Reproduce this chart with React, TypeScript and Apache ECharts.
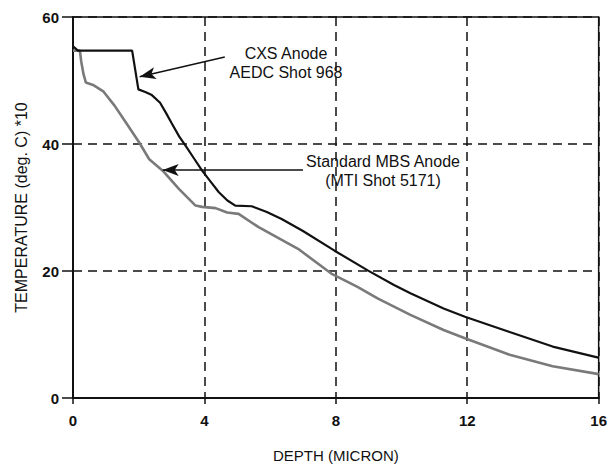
import React, { useEffect, useRef } from "react";
import * as echarts from "echarts";

const cxsDepth = [0, 0.15, 1.8, 1.99, 2.2, 2.4, 2.65, 2.83, 3.0, 3.23, 3.43, 3.7, 3.93, 4.2, 4.44, 4.7, 4.94, 5.44, 5.9, 6.35, 7.0, 7.96, 8.97, 9.77, 10.27, 11.28, 11.93, 13.29, 14.6, 15.96, 16];
const cxsTemp = [55.4, 54.7, 54.7, 48.6, 48.2, 47.7, 46.5, 44.9, 43.3, 41.2, 39.7, 37.6, 35.8, 34.0, 32.4, 31.1, 30.3, 30.2, 29.3, 28.2, 26.3, 23.2, 20.1, 17.8, 16.5, 14.1, 12.8, 10.4, 8.1, 6.4, 6.3];

const mbsDepth = [0, 0.21, 0.25, 0.32, 0.39, 0.61, 0.92, 1.27, 1.62, 2.02, 2.32, 2.73, 3.23, 3.73, 3.93, 4.34, 4.69, 5.04, 5.65, 6.85, 7.86, 8.66, 9.27, 10.27, 11.28, 11.93, 13.29, 14.6, 15.96, 16];
const mbsTemp = [54.7, 54.7, 53.0, 51.0, 49.7, 49.3, 48.3, 46.0, 43.3, 40.2, 37.6, 35.8, 32.9, 30.3, 30.1, 29.9, 29.2, 29.0, 26.9, 23.5, 19.6, 17.5, 15.7, 13.1, 10.7, 9.4, 6.8, 5.0, 3.8, 3.7];

const xTicks = [0, 4, 8, 12, 16];
const yTicks = [0, 20, 40, 60];

const cxsLabel = ["CXS Anode", "AEDC Shot 968"];
const mbsLabel = ["Standard MBS Anode", "(MTI Shot 5171)"];
const cxsArrow = [[4.62, 53.7], [2.03, 50.6]];
const mbsArrow = [[7.0, 35.9], [2.73, 35.9]];

const FONT = "Liberation Sans, Arial, Helvetica, sans-serif";

export default function App() {
  const ref = useRef<HTMLDivElement>(null);
  useEffect(() => {
    if (!ref.current) return;
    const chart = echarts.init(ref.current, null, { renderer: "svg" });
    const zip = (a: number[], b: number[]) => a.map((v, i) => [v, b[i]]);
    const arrowLine = (pts: number[][]) => ({
      silent: true,
      symbol: ["none", "arrow"],
      symbolSize: [9, 16],
      label: { show: false },
      lineStyle: { color: "#111", width: 1.5, type: "solid" },
      data: [[{ coord: pts[0] }, { coord: pts[1] }]],
    });
    chart.setOption({
      animation: false,
      backgroundColor: "#fff",
      grid: {
        left: 73,
        right: 8,
        top: 17,
        bottom: 67,
        show: true,
        borderColor: "#111",
        borderWidth: 1.5,
      },
      xAxis: {
        type: "value",
        min: xTicks[0],
        max: xTicks[xTicks.length - 1],
        interval: 4,
        name: "DEPTH (MICRON)",
        nameLocation: "middle",
        nameGap: 50,
        nameTextStyle: { fontFamily: FONT, fontSize: 15, color: "#111" },
        axisLine: { show: true, lineStyle: { color: "#111", width: 2 } },
        axisTick: { show: true, length: 6, lineStyle: { color: "#111", width: 1.5 } },
        axisLabel: { fontFamily: FONT, fontSize: 15, fontWeight: "bold", color: "#111", margin: 15 },
        splitLine: {
          show: true,
          lineStyle: { color: "#111", width: 1.5, type: [9, 6] },
        },
      },
      yAxis: {
        type: "value",
        min: yTicks[0],
        max: yTicks[yTicks.length - 1],
        interval: 20,
        name: "TEMPERATURE (deg. C) *10",
        nameLocation: "middle",
        nameGap: 44,
        nameTextStyle: { fontFamily: FONT, fontSize: 16, color: "#111" },
        axisLine: { show: true, lineStyle: { color: "#111", width: 2 } },
        axisTick: { show: true, length: 11, lineStyle: { color: "#111", width: 1.5 } },
        axisLabel: { fontFamily: FONT, fontSize: 15, fontWeight: "bold", color: "#111", margin: 14 },
        splitLine: {
          show: true,
          lineStyle: { color: "#111", width: 1.5, type: [9, 6] },
        },
      },
      series: [
        {
          name: "MBS",
          type: "line",
          data: zip(mbsDepth, mbsTemp),
          showSymbol: false,
          lineStyle: { color: "#7a7a7a", width: 2.6 },
          markLine: arrowLine(mbsArrow),
          z: 3,
        },
        {
          name: "CXS",
          type: "line",
          data: zip(cxsDepth, cxsTemp),
          showSymbol: false,
          lineStyle: { color: "#111", width: 2.2 },
          markLine: arrowLine(cxsArrow),
          z: 4,
        },
      ],
      graphic: [
        {
          type: "text",
          x: 286,
          y: 44,
          style: {
            text: cxsLabel.join("\n"),
            font: `16px ${FONT}`,
            fill: "#111",
            align: "center",
            verticalAlign: "top",
            lineHeight: 19,
          },
        },
        {
          type: "text",
          x: 383,
          y: 152,
          style: {
            text: mbsLabel.join("\n"),
            font: `16px ${FONT}`,
            fill: "#111",
            align: "center",
            verticalAlign: "top",
            lineHeight: 19,
          },
        },
      ],
    });
    return () => chart.dispose();
  }, []);
  return (
    <div
      ref={ref}
      style={{ position: "absolute", left: 0, top: 0, width: 610, height: 468 }}
    />
  );
}
